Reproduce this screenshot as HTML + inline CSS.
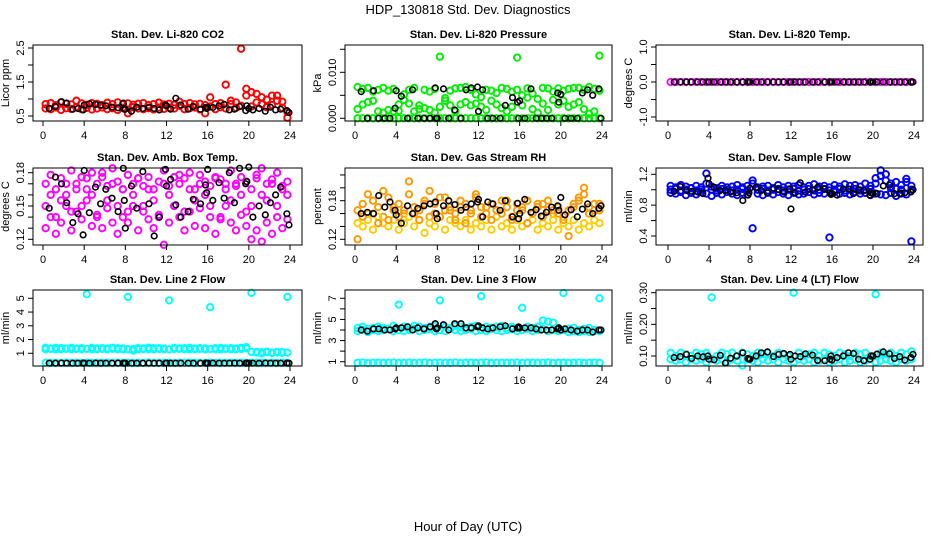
<!DOCTYPE html>
<html><head><meta charset="utf-8"><style>
html,body{margin:0;padding:0;background:#fff;}
svg{display:block;font-family:"Liberation Sans",Arial,sans-serif;}
</style></head><body>
<svg id="chart" width="936" height="540" viewBox="0 0 936 540" xmlns="http://www.w3.org/2000/svg">
<text x="468" y="14" text-anchor="middle" font-size="13">HDP_130818  Std. Dev. Diagnostics</text>
<text x="468" y="531" text-anchor="middle" font-size="13">Hour of Day (UTC)</text>
</svg>
<script>
const hours48 = Array.from({length:48},(_,i)=>i*0.5+0.25);
const blackHours = [0.6,1.2,1.8,2.3,2.9,3.4,3.9,4.0,4.5,5.1,5.6,6.1,6.7,7.3,7.8,7.9,8.0,8.6,9.1,9.7,10.3,10.8,11.3,11.9,12.0,12.4,12.9,13.4,14.1,14.6,15.3,15.8,15.9,16.0,16.5,17.1,17.6,18.1,18.6,19.1,19.7,19.8,20.0,20.4,21.0,21.6,22.1,22.6,23.1,23.7,23.9];
const xTicks = [0,4,8,12,16,20,24];

const co2Red1 = [0.72,0.70,0.75,0.68,0.73,0.71,0.76,0.70,0.74,0.69,0.72,0.75,0.70,0.73,0.68,0.74,0.58,0.76,0.72,0.70,0.73,0.69,0.75,0.71,0.74,0.72,0.80,0.70,0.73,0.75,0.69,0.58,0.78,0.70,0.76,0.72,0.85,0.74,0.80,1.1,0.78,0.90,0.85,0.76,0.82,0.95,0.74,0.45];
const co2Red2 = [0.85,0.88,0.82,0.90,0.86,0.84,0.95,0.87,0.83,0.88,0.86,0.82,0.89,0.85,0.90,0.84,0.87,0.83,0.86,0.88,0.82,0.85,0.89,0.84,0.86,0.83,0.92,0.85,0.88,0.84,0.86,0.82,1.05,0.85,0.88,1.42,0.95,0.90,2.48,1.30,1.2,1.15,1.05,0.98,1.1,1.1,0.92,0.62];
const co2Black = [.72,.78,.92,.88,.70,.72,.68,.82,.86,.84,.82,.80,.76,.74,.88,.70,.70,.64,.76,.72,.76,.72,.68,.82,.80,.70,1.02,.82,.70,.78,.70,.75,.72,.76,.75,.80,.84,.68,.70,.78,.66,.80,.72,.68,.72,.64,.76,.68,.70,.66,.60];

const presGreen1 = [0.0068,0.0064,0.0066,0.0058,0.0062,0.0066,0.0060,0.0064,0.0030,0.0052,0.0062,0.0066,0.0020,0.0062,0.0058,0.0064,0.0025,0.0044,0.0060,0.0065,0.0066,0.0068,0.0062,0.0052,0.0046,0.0062,0.0060,0.0055,0.0066,0.0064,0.0058,0.0062,0.0050,0.0065,0.0054,0.0042,0.0066,0.0065,0.0058,0.0065,0.0060,0.0064,0.0066,0.0066,0.0062,0.0068,0.0064,0.0060];
const presGreen2 = [0.0020,0.0030,0.0035,0.0038,0.0015,0.0012,0.0018,0.0015,0.0016,0.0040,0.0032,0.0015,0.0028,0.0022,0.0018,0.0012,0.0134,0.0038,0.0028,0.0015,0.0030,0.0035,0.0028,0.0032,0.0025,0.0018,0.0038,0.0030,0.0022,0.0015,0.0025,0.0132,0.0028,0.0045,0.0020,0.0012,0.0032,0.0018,0.0040,0.0030,0.0038,0.0025,0.0030,0.0035,0.0020,0.0010,0.0015,0.0136];
const presGreen3 = [0,0,0,0,0,0,0,0,0,0,0,0,0,0,0,0,0,0,0,0,0,0,0,0,0,0,0,0,0,0,0,0,0,0,0,0,0,0,0,0,0,0,0,0,0,0,0,0];
const presBlack = [0.0058,0,0.0060,0,0,0,0.0022,0.0060,0.0048,0,0.0062,0,0,0,0.0066,0,0,0.0064,0,0.0018,0,0.0062,0.0066,0.0068,0.0015,0.0062,0,0,0,0.0028,0.0045,0.0035,0,0.0038,0,0.0064,0,0,0,0,0.0055,0.0035,0.0052,0,0,0,0.0055,0.0062,0.0050,0.0064,0];

const tempMag = [0,0,0,0,0,0,0,0,0,0,0,0,0,0,0,0,0,0,0,0,0,0,0,0,0,0,0,0,0,0,0,0,0,0,0,0,0,0,0,0,0,0,0,0,0,0,0,0];
const tempBlack = [0,0,0,0,0,0,0,0,0,0,0,0,0,0,0,0,0,0,0,0,0,0,0,0,0,0,0,0,0,0,0,0,0,0,0,0,0,0,0,0,0,0,0,0,0,0,0,0,0,0,0];

const amb1 = [.150,.160,.140,.155,.170,.145,.165,.150,.175,.160,.140,.180,.155,.170,.150,.165,.145,.160,.175,.150,.165,.155,.140,.170,.160,.150,.178,.145,.165,.155,.170,.160,.150,.175,.140,.165,.155,.170,.160,.145,.150,.175,.160,.155,.170,.150,.165,.160];
const amb2 = [.130,.140,.125,.135,.150,.128,.145,.138,.155,.132,.142,.130,.148,.135,.125,.140,.135,.150,.128,.145,.138,.130,.142,.115,.135,.150,.140,.128,.145,.132,.148,.130,.140,.125,.138,.150,.135,.128,.142,.132,.120,.128,.118,.135,.125,.140,.130,.138];
const amb3 = [.170,.178,.165,.175,.160,.182,.170,.176,.165,.180,.170,.176,.168,.184,.172,.165,.178,.170,.175,.168,.176,.165,.172,.182,.168,.176,.170,.175,.180,.165,.178,.172,.168,.176,.174,.170,.182,.168,.176,.172,.165,.178,.184,.170,.174,.180,.168,.172];
const ambBlack = [.148,.176,.170,.153,.135,.143,.124,.182,.144,.167,.152,.165,.157,.145,.184,.155,.130,.168,.148,.181,.152,.123,.140,.183,.168,.174,.151,.140,.145,.156,.152,.169,.162,.183,.155,.171,.157,.180,.153,.184,.170,.172,.185,.140,.150,.142,.153,.160,.167,.143,.133];

const rh1 = [.165,.175,.160,.180,.170,.155,.185,.165,.175,.160,.190,.170,.165,.180,.155,.175,.185,.165,.170,.160,.180,.175,.165,.185,.170,.160,.175,.165,.180,.170,.155,.175,.165,.180,.160,.170,.175,.165,.160,.170,.155,.165,.175,.180,.190,.170,.165,.175];
const rh2 = [.145,.140,.150,.135,.155,.145,.140,.150,.135,.145,.155,.140,.150,.130,.145,.140,.155,.135,.150,.145,.140,.150,.135,.145,.140,.150,.135,.155,.140,.145,.135,.150,.140,.145,.150,.135,.145,.140,.150,.135,.145,.140,.150,.135,.145,.140,.150,.145];
const rh3 = [.120,.155,.190,.160,.145,.195,.150,.170,.155,.165,.210,.160,.150,.175,.195,.160,.155,.185,.165,.150,.170,.145,.160,.190,.155,.170,.150,.165,.160,.180,.150,.165,.170,.145,.160,.175,.155,.180,.165,.160,.150,.125,.170,.185,.200,.160,.175,.165];
const rhBlack = [.160,.162,.160,.188,.170,.178,.165,.158,.145,.172,.160,.168,.172,.175,.178,.160,.152,.172,.180,.174,.165,.170,.175,.178,.182,.155,.178,.175,.165,.180,.155,.176,.152,.160,.182,.162,.166,.156,.162,.170,.172,.165,.185,.158,.166,.155,.167,.175,.160,.168,.172];

const sf1 = [1.05,1.03,1.06,1.04,1.02,1.05,1.03,1.08,1.04,1.02,1.05,1.03,1.04,1.06,1.03,1.05,1.08,1.03,1.04,1.05,1.02,1.06,1.03,1.05,1.04,1.06,1.03,1.05,1.07,1.04,1.05,1.03,1.06,1.04,1.07,1.05,1.06,1.04,1.08,1.05,1.15,1.25,1.12,1.08,1.10,1.06,1.10,1.05];
const sf2 = [0.96,0.95,0.97,0.93,0.96,0.94,0.97,0.95,0.92,0.96,0.94,0.97,0.95,0.93,0.96,0.94,0.50,0.95,0.93,0.96,0.94,0.97,0.95,0.93,0.96,0.94,0.95,0.97,0.94,0.96,0.95,0.38,0.97,0.95,0.96,0.94,0.97,0.95,0.96,0.93,0.95,0.94,0.93,0.96,0.92,0.95,0.94,0.33];
const sf3 = [1.00,1.01,0.99,1.00,1.02,0.99,1.00,1.21,1.00,0.99,1.01,1.00,0.99,1.00,1.01,0.99,1.12,1.00,1.01,0.99,1.00,1.01,0.99,1.00,1.01,0.99,1.00,1.01,0.99,1.00,1.01,0.99,1.00,1.01,0.99,1.00,1.01,0.99,1.00,1.01,1.08,1.18,1.20,1.02,1.01,1.00,1.14,1.00];
const sfBlack = [.98,1.04,.99,.98,.97,.95,1.15,1.08,1.03,.99,.99,.97,.96,.86,.93,.96,1.02,1.03,.99,.96,1.02,1.00,.97,1.01,.75,.96,1.09,.97,1.00,1.03,1.01,.96,.94,.95,.93,1.01,1.01,.95,1.00,.99,.93,.96,.95,.95,1.05,1.06,.95,.95,.96,.97,1.00];

const l2a = [1.4,1.35,1.4,1.38,1.36,1.4,1.35,1.38,5.3,1.4,1.36,1.38,1.35,1.4,1.37,1.36,5.1,1.2,1.38,1.36,1.4,1.37,1.38,1.35,4.85,1.4,1.36,1.38,1.4,1.35,1.37,1.36,4.35,1.38,1.4,1.36,1.38,1.35,1.4,1.37,5.4,1.1,1.08,1.12,1.05,1.1,1.08,5.1];
const l2b = [1.3,1.32,1.28,1.3,1.33,1.29,1.31,1.3,1.32,1.28,1.3,1.31,1.29,1.33,1.3,1.28,1.3,1.32,1.29,1.31,1.3,1.28,1.32,1.3,1.29,1.31,1.33,1.3,1.28,1.3,1.32,1.29,1.31,1.3,1.28,1.32,1.3,1.29,1.31,1.45,1.1,1.05,1.0,1.08,1.02,1.06,1.04,1.05];
const l2c = [0.32,0.3,0.31,0.3,0.32,0.3,0.31,0.3,0.32,0.3,0.31,0.3,0.32,0.3,0.31,0.3,0.32,0.3,0.31,0.3,0.32,0.3,0.31,0.3,0.32,0.3,0.31,0.3,0.32,0.3,0.31,0.3,0.32,0.3,0.31,0.3,0.32,0.3,0.31,0.3,0.32,0.3,0.31,0.3,0.32,0.3,0.31,0.3];
const l2Black = [.28,.28,.29,.28,.28,.28,.29,.28,.28,.29,.28,.28,.28,.29,.28,.28,.29,.28,.28,.28,.29,.28,.28,.28,.29,.28,.28,.29,.28,.28,.28,.29,.28,.28,.29,.28,.28,.28,.29,.28,.28,.29,.28,.28,.28,.29,.28,.28,.28,.29,.28];

const l3a = [4.2,4.3,4.1,4.2,4.3,4.2,4.1,4.4,6.4,4.3,4.2,4.4,4.3,4.2,4.3,4.4,6.8,4.3,4.2,4.4,4.3,4.2,4.3,4.4,7.2,4.3,4.2,4.3,4.4,4.2,4.3,4.2,6.1,4.3,4.2,4.3,4.1,4.8,4.7,4.2,7.5,4.1,4.2,4.0,4.1,4.2,4.0,7.0];
const l3b = [3.9,4.0,3.8,4.0,3.9,4.0,4.1,3.9,4.0,3.9,4.0,4.1,3.9,4.0,4.1,3.9,4.0,3.9,4.1,4.0,3.9,4.0,4.1,3.9,4.0,3.9,4.1,4.0,3.9,4.0,4.1,3.9,4.0,4.1,3.9,4.0,4.9,3.9,4.0,3.9,4.0,3.8,3.9,3.8,3.9,3.8,3.9,3.9];
const l3c = [0.9,0.92,0.88,0.9,0.91,0.89,0.9,0.92,0.88,0.9,0.91,0.89,0.9,0.92,0.88,0.9,0.91,0.89,0.9,0.92,0.88,0.9,0.91,0.89,0.9,0.92,0.88,0.9,0.91,0.89,0.9,0.92,0.88,0.9,0.91,0.89,0.9,0.92,0.88,0.9,0.91,0.89,0.9,0.92,0.88,0.9,0.91,0.89];
const l3Black = [4.0,3.9,4.1,4.1,4.0,4.0,4.1,4.2,4.2,4.3,4.0,4.2,4.1,4.3,4.6,4.1,4.2,4.5,4.0,4.6,4.6,4.2,4.2,4.3,4.4,4.2,4.1,4.2,4.3,4.4,4.1,4.2,4.3,4.2,4.2,4.2,4.1,4.0,4.0,4.0,4.1,4.2,4.0,4.1,4.0,3.9,4.0,4.0,3.8,4.0,4.0];

const l4a = [.11,.10,.11,.105,.10,.11,.105,.11,.285,.10,.11,.105,.11,.10,.11,.105,.10,.11,.105,.11,.10,.11,.105,.10,.30,.11,.10,.105,.11,.10,.11,.105,.10,.11,.105,.10,.11,.105,.11,.10,.295,.11,.105,.11,.10,.11,.105,.115];
const l4b = [.09,.085,.09,.08,.09,.085,.09,.08,.09,.085,.09,.08,.09,.085,.07,.09,.085,.08,.09,.085,.09,.08,.09,.085,.08,.09,.085,.09,.08,.085,.09,.08,.085,.09,.08,.085,.09,.08,.085,.09,.08,.085,.09,.085,.08,.09,.085,.09];
const l4Black = [.095,.098,.105,.092,.10,.097,.10,.09,.088,.102,.078,.093,.10,.11,.092,.09,.09,.10,.11,.113,.098,.105,.108,.105,.09,.10,.098,.107,.103,.086,.085,.09,.10,.087,.095,.10,.11,.108,.09,.085,.09,.10,.10,.106,.113,.107,.092,.098,.087,.095,.105];

const panels = [
 {name:'co2',title:'Stan. Dev. Li-820 CO2',ylab:'Licor ppm',box:[33,45,302,121],ymap:[0.5,116,2.5,48],yt:[0.5,1,1.5,2,2.5],yl:['0.5','','1.5','','2.5'],series:[['#ff0000',co2Red1],['#ff0000',co2Red2],['#000',co2Black]]},
 {name:'pressure',title:'Stan. Dev. Li-820 Pressure',ylab:'kPa',box:[345,45,612,121],ymap:[0,118.3,0.015,49.3],yt:[0,0.005,0.01,0.015],yl:['0.000','','0.010',''],series:[['#00ee00',presGreen1],['#00ee00',presGreen2],['#00ee00',presGreen3],['#000',presBlack]]},
 {name:'temp',title:'Stan. Dev. Li-820 Temp.',ylab:'degrees C',box:[656,45,923,121],ymap:[-1,117,1,47],yt:[-1,-0.5,0,0.5,1],yl:['-1.0','','0.0','','1.0'],series:[['#ff00ff',tempMag],['#000',tempBlack]]},
 {name:'amb-box',title:'Stan. Dev. Amb. Box Temp.',ylab:'degrees C',box:[33,168,302,245],ymap:[0.12,239.3,0.18,172.7],yt:[.12,.13,.14,.15,.16,.17,.18],yl:['0.12','','','0.15','','','0.18'],series:[['#ff00ff',amb1],['#ff00ff',amb2],['#ff00ff',amb3],['#000',ambBlack]]},
 {name:'rh',title:'Stan. Dev. Gas Stream RH',ylab:'percent',box:[345,168,612,245],ymap:[0.12,239.3,0.18,200.7],yt:[.12,.14,.16,.18,.20,.22],yl:['0.12','','','0.18','',''],series:[['#ff9900',rh1],['#ffcc00',rh2],['#ff9900',rh3],['#000',rhBlack]]},
 {name:'sample-flow',title:'Stan. Dev. Sample Flow',ylab:'ml/min',box:[656,168,923,245],ymap:[0.4,236,1.2,174.3],yt:[.4,.6,.8,1,1.2],yl:['0.4','','0.8','','1.2'],series:[['#0000ff',sf1],['#0000ff',sf2],['#0000ff',sf3],['#000',sfBlack]]},
 {name:'line2',title:'Stan. Dev. Line 2 Flow',ylab:'ml/min',box:[33,290,302,366],ymap:[1,353.3,5,298.3],yt:[1,2,3,4,5],yl:['1','2','3','4','5'],series:[['#00ffff',l2a],['#00ffff',l2b],['#00ffff',l2c],['#000',l2Black]]},
 {name:'line3',title:'Stan. Dev. Line 3 Flow',ylab:'ml/min',box:[345,290,612,366],ymap:[1,361.7,7,298.3],yt:[1,2,3,4,5,6,7],yl:['1','','3','','5','','7'],series:[['#00ffff',l3a],['#00ffff',l3b],['#00ffff',l3c],['#000',l3Black]]},
 {name:'line4',title:'Stan. Dev. Line 4 (LT) Flow',ylab:'ml/min',box:[656,290,923,366],ymap:[0.1,356,0.3,292.7],yt:[.1,.15,.2,.25,.3],yl:['0.10','','0.20','','0.30'],series:[['#00ffff',l4a],['#00ffff',l4b],['#000',l4Black]]}
];
const colX = {33:[43,290],345:[355,602],656:[668,914]};
const NS='http://www.w3.org/2000/svg';
const svg=document.getElementById('chart');
function mk(tag,attrs,parent){const e=document.createElementNS(NS,tag);for(const k in attrs)e.setAttribute(k,attrs[k]);(parent||svg).appendChild(e);return e;}
panels.forEach(p=>{
  const [L,T,R,B]=p.box;
  const [x0,x1]=colX[L];
  const xs=h=>x0+(h/24)*(x1-x0);
  const ys=v=>p.ymap[1]+(v-p.ymap[0])*(p.ymap[3]-p.ymap[1])/(p.ymap[2]-p.ymap[0]);
  const g=mk('g',{});
  
  
  const pts=mk('g',{},g);
  
  
  p.series.forEach(([col,vals])=>{
    const isBlack=col==='#000';
    const hrs=isBlack?blackHours:hours48;
    const n=Math.min(hrs.length,vals.length);
    for(let i=0;i<n;i++){
      const c=mk('circle',{cx:xs(hrs[i]).toFixed(1),cy:ys(vals[i]).toFixed(1),r:isBlack?2.8:3.2,fill:'none',stroke:col,'stroke-width':isBlack?1.6:1.9},pts);
      
      
    }
  });
  const t=mk('text',{x:(L+R)/2,y:T-7,'text-anchor':'middle','font-size':11,'font-weight':'bold'},g);
  t.textContent=p.title;
  
  
  const yl=mk('text',{x:0,y:0,'text-anchor':'middle','font-size':11,transform:`translate(${L-24},${(T+B)/2}) rotate(-90)`},g);
  yl.textContent=p.ylab;
  
  
  const box=mk('rect',{x:L,y:T,width:R-L,height:B-T,fill:'none',stroke:'#000','stroke-width':1},g);
  
  
  const ax=mk('g',{},g);
  
  
  mk('line',{x1:x0,x2:x1,y1:B,y2:B,stroke:'#000'},ax);
  xTicks.forEach(h=>{
    mk('line',{x1:xs(h),x2:xs(h),y1:B,y2:B+5,stroke:'#000'},ax);
    const tl=mk('text',{x:xs(h),y:B+18,'text-anchor':'middle','font-size':11},ax);
    tl.textContent=h;
  });
  const ay=mk('g',{},g);
  
  
  p.yt.forEach((v,i)=>{
    const y=ys(v);
    mk('line',{x1:L-5,x2:L,y1:y,y2:y,stroke:'#000'},ay);
    if(p.yl[i]){
      const tl=mk('text',{x:0,y:0,'text-anchor':'middle','font-size':11,transform:`translate(${L-9},${y}) rotate(-90)`},ay);
      tl.textContent=p.yl[i];
    }
  });
});
</script>
</body></html>
